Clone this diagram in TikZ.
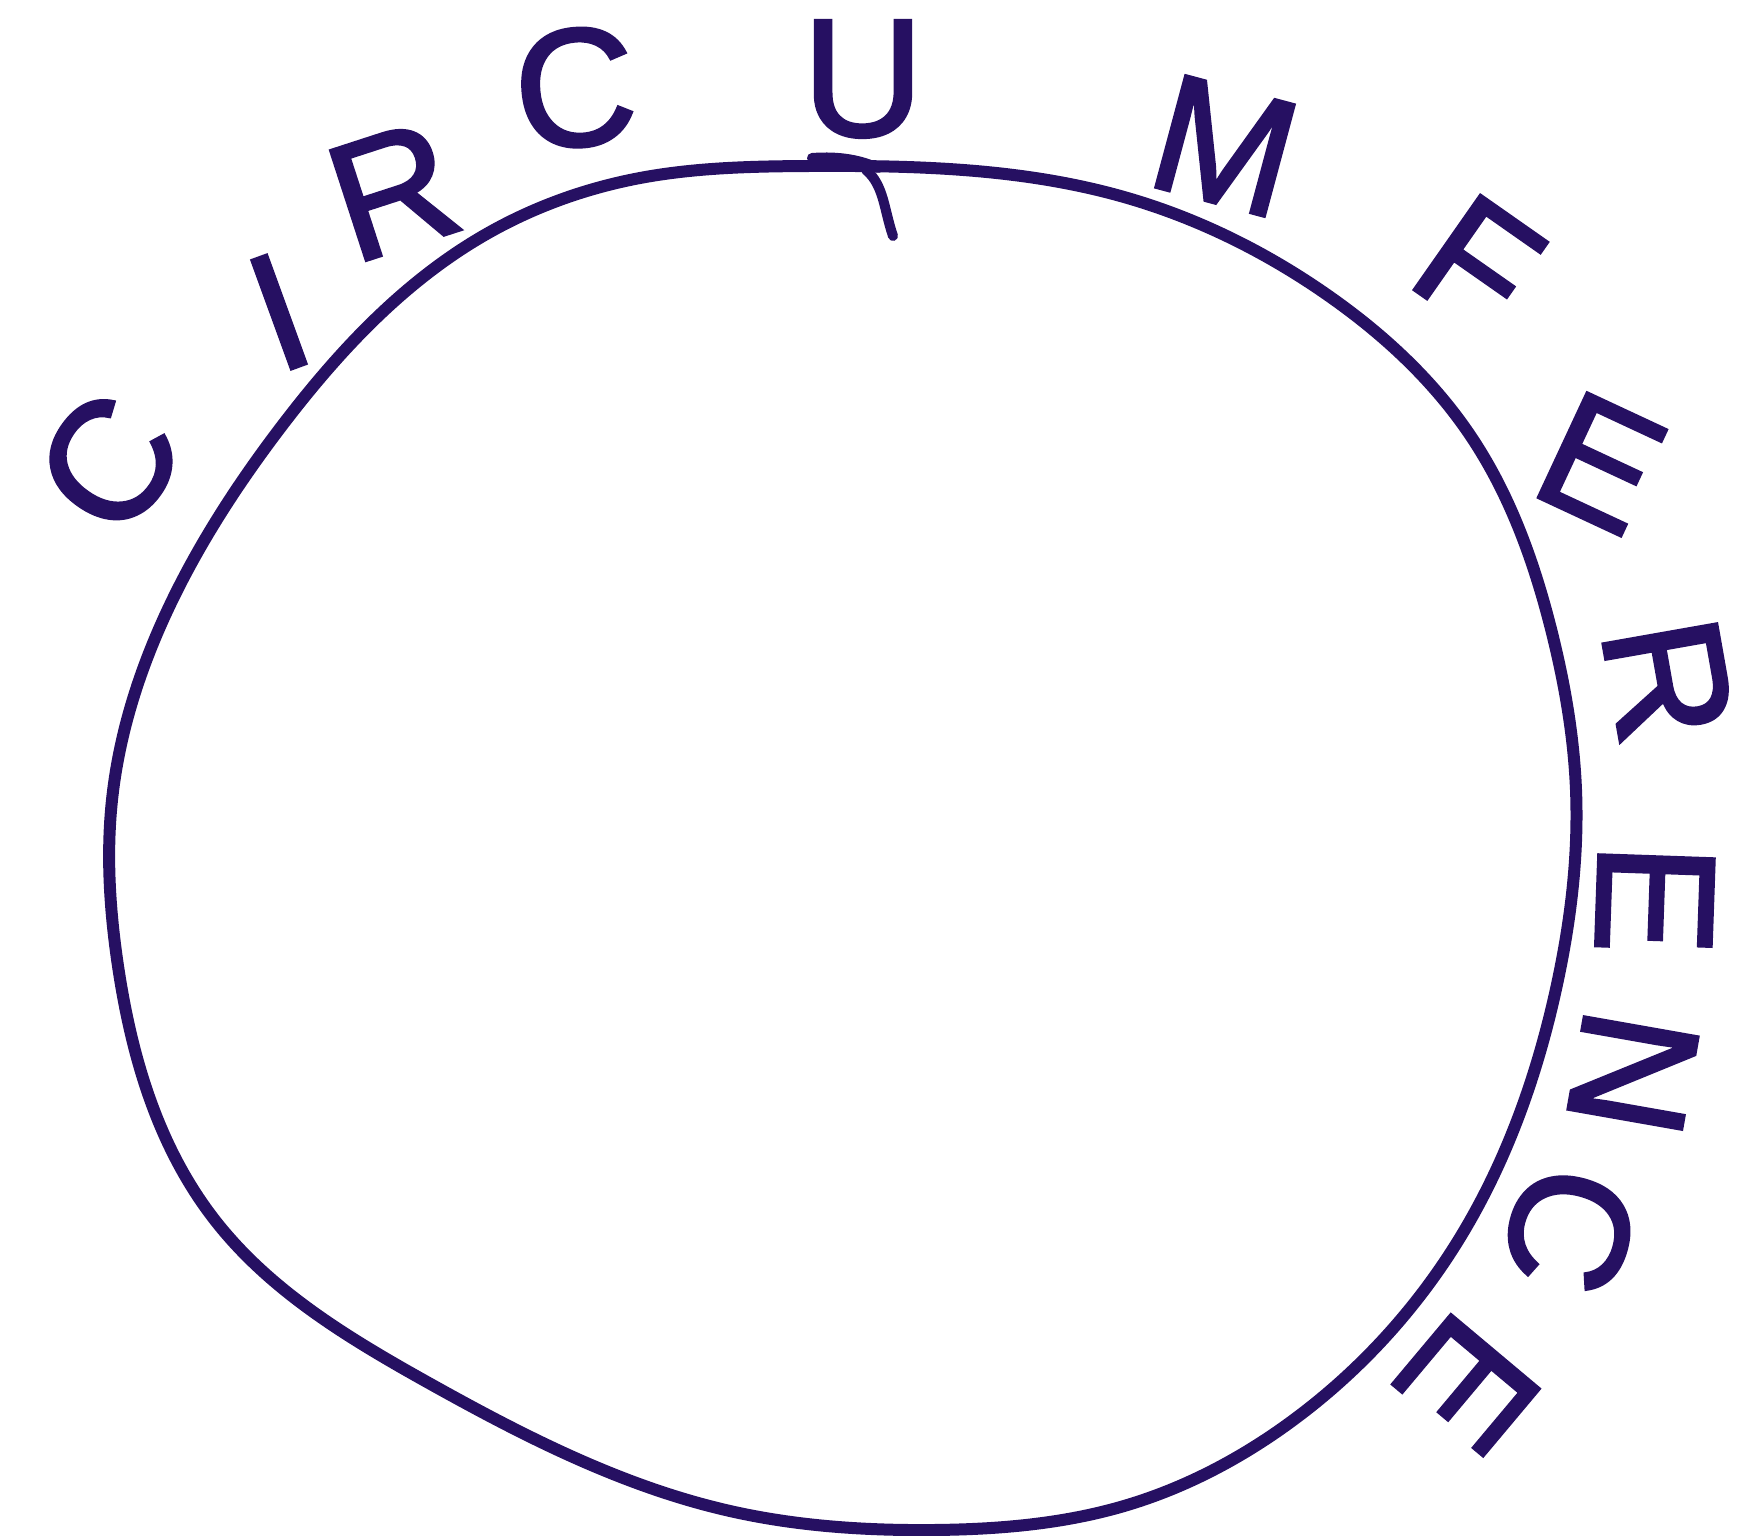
\documentclass[tikz,border=0pt]{standalone}
\usepackage{fontspec}
\setmainfont{Liberation Sans}[FakeBold=1.8]
\usetikzlibrary{hobby}
\definecolor{ink}{RGB}{38,16,98}
\tikzset{
  lt/.style={text=ink,inner sep=0pt,anchor=center,font=\fontsize{84}{84}\selectfont},
  rim/.style={draw=ink,line width=6pt,line cap=round,line join=round}
}
\begin{document}
\begin{tikzpicture}[x=0.5pt,y=-0.5pt]
\useasboundingbox (0,0) rectangle (1762,1536);
\draw[rim,use Hobby shortcut,closed=true] (809,166) .. (1124,197) .. (1326,294) .. (1472,438)
 .. (1551,629) .. (1576,790) .. (1556,989) .. (1461,1236) .. (1292,1421) .. (1124,1506)
 .. (933,1530) .. (730,1511) .. (427,1382) .. (214,1219) .. (118,966) .. (112,800)
 .. (169,607) .. (281,427) .. (483,236) .. (640,178);
\draw[rim,line width=5pt] (812,158) .. controls (840,156) and (860,160) .. (878,168);
\draw[rim,line width=5pt] (866,170) .. controls (884,185) and (884,210) .. (893,236);
\node[lt,rotate=55] (c1) at (109,463) {C};
\node[lt,rotate=20] (i1) at (279,312) {I};
\node[lt,rotate=18] (r1) at (393,191) {R};
\node[lt,rotate=5] (c2) at (575,88) {C};
\node[lt,rotate=0] (u1) at (863,79) {U};
\node[lt,rotate=-15] (m1) at (1225,146) {M};
\node[lt,rotate=-35] (f1) at (1478,264) {F};
\node[lt,rotate=-25] (e1) at (1601,463) {E};
\node[lt,rotate=-80] (r2) at (1668,680) {R};
\node[lt,rotate=-92] (e2) at (1655,899) {E};
\node[lt,rotate=-100] (n1) at (1633,1073) {N};
\node[lt,rotate=-105] (c3) at (1570,1230) {C};
\node[lt,rotate=-130] (e3) at (1468,1384) {E};
\end{tikzpicture}
\end{document}
